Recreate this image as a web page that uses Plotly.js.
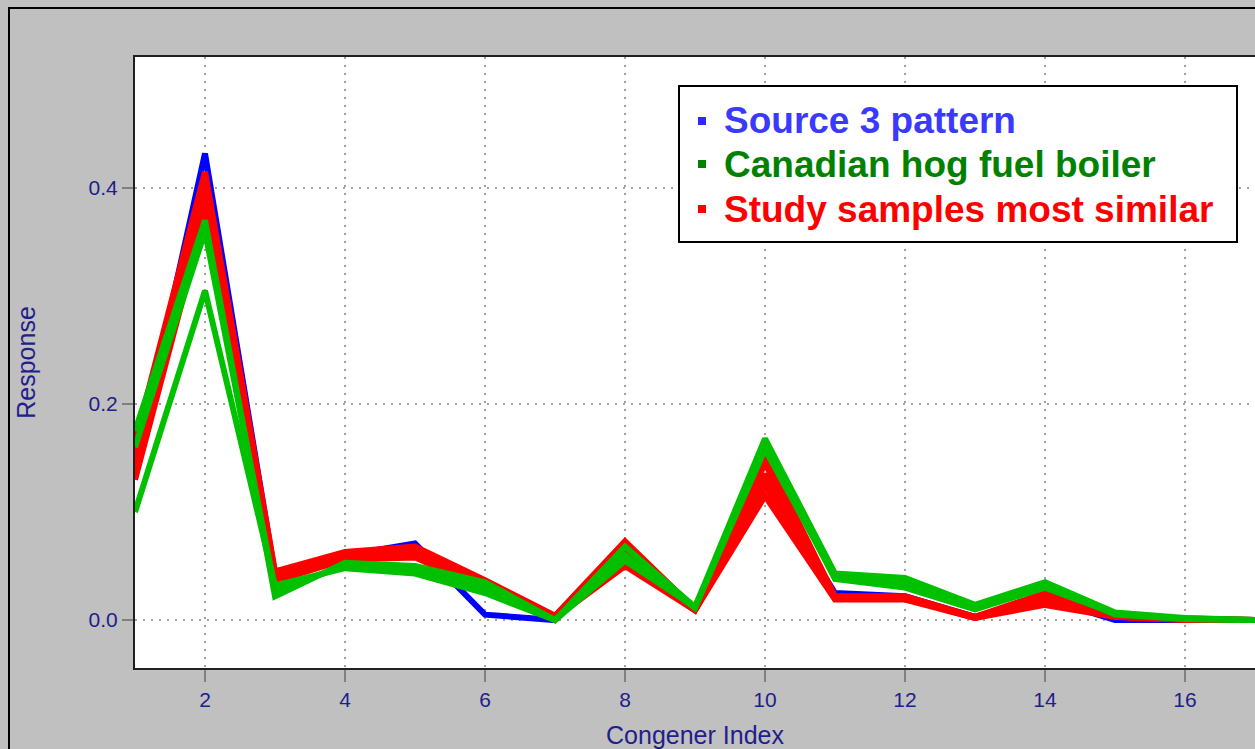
<!DOCTYPE html>
<html>
<head>
<meta charset="utf-8">
<script src="https://cdn.plot.ly/plotly-3.0.1.min.js"></script>
<style>
html,body{margin:0;padding:0;background:#c0c0c0;}
#chart{width:1255px;height:749px;}
</style>
</head>
<body>
<div id="chart"></div>
<script>
// ---- data ----
const congenerIndex = [1,2,3,4,5,6,7,8,9,10,11,12,13,14,15,16,17];

const source3Pattern = [0.140,0.432,0.042,0.060,0.071,0.005,0.000,0.065,0.010,0.130,0.025,0.022,0.003,0.020,0.000,0.000,0.000];

const hogFuelBoiler1 = [0.175,0.370,0.022,0.053,0.050,0.035,0.000,0.068,0.012,0.168,0.043,0.039,0.014,0.035,0.007,0.002,0.000];
const hogFuelBoiler2 = [0.160,0.360,0.028,0.050,0.046,0.030,0.000,0.060,0.011,0.162,0.038,0.030,0.010,0.030,0.006,0.001,0.000];
const hogFuelBoiler3 = [0.100,0.305,0.032,0.048,0.043,0.025,0.000,0.055,0.012,0.158,0.040,0.034,0.012,0.033,0.005,0.001,0.000];

const studySample1 = [0.165,0.415,0.045,0.063,0.068,0.037,0.004,0.073,0.010,0.153,0.022,0.022,0.003,0.025,0.004,0.001,0.000];
const studySample2 = [0.155,0.405,0.042,0.060,0.065,0.033,0.003,0.068,0.010,0.145,0.021,0.021,0.003,0.022,0.004,0.001,0.000];
const studySample3 = [0.145,0.395,0.040,0.058,0.063,0.030,0.003,0.062,0.010,0.135,0.020,0.020,0.002,0.020,0.003,0.001,0.000];
const studySample4 = [0.138,0.385,0.038,0.060,0.060,0.030,0.002,0.055,0.009,0.125,0.020,0.020,0.002,0.017,0.003,0.000,0.000];
const studySample5 = [0.130,0.375,0.036,0.056,0.058,0.028,0.002,0.050,0.009,0.115,0.019,0.019,0.002,0.014,0.003,0.000,0.000];

const xTickVals = [2,4,6,8,10,12,14,16];
const xTickText = ['2','4','6','8','10','12','14','16'];
const yTickVals = [0.0,0.2,0.4];
const yTickText = ['0.0','0.2','0.4'];

const legendLabels = ['Source 3 pattern','Canadian hog fuel boiler','Study samples most similar'];
const legendTextColors = ['#3a3aff','#008200','#ff0000'];
const legendMarkColors = ['#2b2bff','#008200','#ff0000'];

// ---- traces ----
const BLUE = '#0000ff', GREEN = '#00c000', RED = '#ff0000';
const LW = 6;
function line(y, color){
  return {x: congenerIndex, y: y, type:'scatter', mode:'lines',
          line:{color:color, width:LW}, showlegend:false, hoverinfo:'skip'};
}
const traces = [
  line(source3Pattern, BLUE),
  line(studySample1, RED), line(studySample2, RED), line(studySample3, RED),
  line(studySample4, RED), line(studySample5, RED),
  line(hogFuelBoiler1, GREEN), line(hogFuelBoiler2, GREEN), line(hogFuelBoiler3, GREEN)
];

// ---- layout ----
const L = 135, T = 57, W = 1255, H = 749, B = 81;
const plotW = W - L, plotH = H - T - B;
function px2x(px){ return (px - L) / plotW; }
function py2y(py){ return (H - B - py) / plotH; }

const shapes = [
  // outer frame
  {type:'rect', xref:'paper', yref:'paper', x0:px2x(9), x1:px2x(1400), y0:py2y(900), y1:py2y(8),
   line:{color:'#000000', width:2}, layer:'below'},
  // legend box
  {type:'rect', xref:'paper', yref:'paper', x0:px2x(679), x1:px2x(1237), y0:py2y(242), y1:py2y(86),
   line:{color:'#000000', width:2}, fillcolor:'#ffffff', layer:'above'}
];
const annotations = [];
const legendY = [121, 164, 209];
legendLabels.forEach((lab, i) => {
  shapes.push({type:'rect', xref:'paper', yref:'paper',
    x0:px2x(698), x1:px2x(706), y0:py2y(legendY[i]+4), y1:py2y(legendY[i]-4),
    line:{width:0}, fillcolor:legendMarkColors[i], layer:'above'});
  annotations.push({xref:'paper', yref:'paper', x:px2x(722), y:py2y(legendY[i]),
    xanchor:'left', yanchor:'middle', showarrow:false,
    text:'<b>'+lab+'</b>',
    font:{family:'Liberation Sans, Arial, sans-serif', size:37, color:legendTextColors[i]}});
});

const NAVY = '#20208c';
const layout = {
  width: W, height: H,
  margin:{l:L, r:0, t:T, b:B, pad:0},
  paper_bgcolor:'#c0c0c0',
  plot_bgcolor:'#ffffff',
  showlegend:false,
  font:{family:'Liberation Sans, Arial, sans-serif', color:NAVY},
  xaxis:{
    range:[1,17], tickvals:xTickVals, ticktext:xTickText,
    ticks:'outside', ticklen:12, tickwidth:2, tickcolor:'#808080',
    tickfont:{size:21, color:NAVY},
    showgrid:true, gridcolor:'#a0a0a0', gridwidth:2, griddash:'2px,6px',
    zeroline:false, showline:true, linecolor:'#202020', linewidth:2, mirror:true,
    title:{text:'Congener Index', font:{size:25, color:NAVY}, standoff:16},
    automargin:false, fixedrange:true
  },
  yaxis:{
    range:[-0.0444,0.5213], tickvals:yTickVals, ticktext:yTickText,
    ticks:'outside', ticklen:11, tickwidth:2, tickcolor:'#808080',
    tickfont:{size:21, color:NAVY},
    showgrid:true, gridcolor:'#a0a0a0', gridwidth:2, griddash:'2px,6px',
    zeroline:false, showline:true, linecolor:'#202020', linewidth:2, mirror:false,
    title:{text:'Response', font:{size:25, color:NAVY}, standoff:46},
    automargin:false, fixedrange:true
  },
  shapes: shapes,
  annotations: annotations
};

Plotly.newPlot('chart', traces, layout, {staticPlot:true, displayModeBar:false});
</script>
</body>
</html>
